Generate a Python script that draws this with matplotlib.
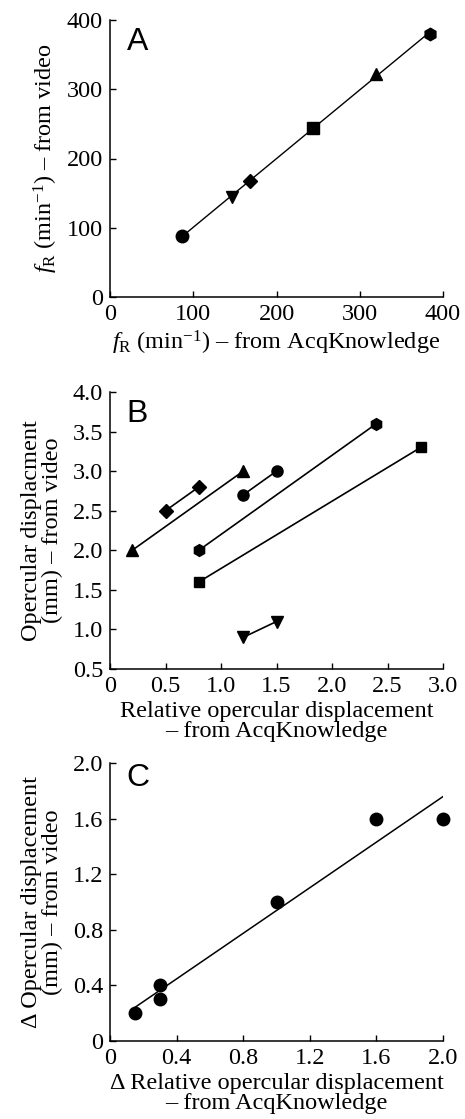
import numpy as np
import matplotlib
matplotlib.use("Agg")
import matplotlib.pyplot as plt

plt.rcParams['font.family'] = ['Liberation Serif', 'DejaVu Serif']
plt.rcParams['mathtext.fontset'] = 'custom'
plt.rcParams['mathtext.rm'] = 'Liberation Serif'
plt.rcParams['mathtext.it'] = 'Liberation Serif:italic'

# Panel A data: (AcqKnowledge, video) respiration frequency
a_markers = ['o', 'v', 'D', 's', '^', 'h']
a_x = [87, 146, 168, 244, 320, 384]
a_y = [88, 145, 168, 244, 322, 380]

# Panel B data: pairs of points for each fish
b_markers = ['^', 'D', 'o', 'h', 's', 'v']
b_x = [[0.2, 1.2], [0.5, 0.8], [1.2, 1.5], [0.8, 2.4], [0.8, 2.8], [1.2, 1.5]]
b_y = [[2.0, 3.0], [2.5, 2.8], [2.7, 3.0], [2.0, 3.6], [1.6, 3.3], [0.9, 1.1]]

# Panel C data
c_x = [0.15, 0.3, 0.3, 1.0, 1.6, 2.0]
c_y = [0.2, 0.4, 0.3, 1.0, 1.6, 1.6]

FS = 17.5
fig = plt.figure(figsize=(4.65, 11.19), dpi=100)
L, W = 110/465, 333/465
axA = fig.add_axes([L, 1-297/1119, W, 277/1119])
axB = fig.add_axes([L, 1-669/1119, W, 277/1119])
axC = fig.add_axes([L, 1-1041/1119, W, 278/1119])

def style(ax):
    for s in ['top', 'right']:
        ax.spines[s].set_visible(False)
    for s in ['left', 'bottom']:
        ax.spines[s].set_linewidth(1.1)
    ax.tick_params(direction='in', length=4, width=1.0, labelsize=FS)
    ax.tick_params(axis='x', pad=5)
    ax.tick_params(axis='y', pad=5)

msA = {'o': 9, 'v': 9, 'D': 7.5, 's': 8, '^': 9, 'h': 9}
msB = {'o': 8, 'v': 8.5, 'D': 7, 's': 7.5, '^': 8.5, 'h': 8.5}
LETTER = dict(fontsize=23, family=['Liberation Sans', 'DejaVu Sans'], va='top', ha='left')

# A
coef = np.polyfit(a_x, a_y, 1)
xx = np.array([min(a_x), max(a_x)])
axA.plot(xx, np.polyval(coef, xx), color='black', lw=1.0, zorder=1)
for m, x, y in zip(a_markers, a_x, a_y):
    axA.plot(x, y, marker=m, color='black', ms=msA[m], ls='none', zorder=2)
axA.set_xlim(0, 400)
axA.set_ylim(0, 400)
axA.set_xticks([0, 100, 200, 300, 400])
axA.set_yticks([0, 100, 200, 300, 400])
style(axA)
axA.set_xlabel(r'$\mathit{f}_{\rm R}$ (min$^{-1}$) – from AcqKnowledge', fontsize=FS, labelpad=3)
axA.set_ylabel(r'$\mathit{f}_{\rm R}$ (min$^{-1}$) – from video', fontsize=FS, labelpad=5)
axA.text(0.05, 0.975, 'A', transform=axA.transAxes, **LETTER)

# B
for m, xs, ys in zip(b_markers, b_x, b_y):
    axB.plot(xs, ys, color='black', lw=1.2, marker=m, ms=msB[m], zorder=2)
axB.set_xlim(0, 3.0)
axB.set_ylim(0.5, 4.0)
axB.set_xticks([0, 0.5, 1.0, 1.5, 2.0, 2.5, 3.0])
axB.set_xticklabels(['0', '0.5', '1.0', '1.5', '2.0', '2.5', '3.0'])
axB.set_yticks([0.5, 1.0, 1.5, 2.0, 2.5, 3.0, 3.5, 4.0])
axB.set_yticklabels(['0.5', '1.0', '1.5', '2.0', '2.5', '3.0', '3.5', '4.0'])
style(axB)
axB.set_xlabel('Relative opercular displacement\n– from AcqKnowledge', fontsize=FS, labelpad=3, linespacing=0.95)
axB.set_ylabel('Opercular displacment\n(mm) – from video', fontsize=FS, labelpad=7, linespacing=0.95)
axB.text(0.05, 0.975, 'B', transform=axB.transAxes, **LETTER)

# C
coefc = np.polyfit(c_x, c_y, 1)
xc = np.array([min(c_x), max(c_x)])
axC.plot(xc, np.polyval(coefc, xc), color='black', lw=1.1, zorder=1)
axC.plot(c_x, c_y, 'o', color='black', ms=9, zorder=2, clip_on=False)
axC.set_xlim(0, 2.0)
axC.set_ylim(0, 2.0)
axC.set_xticks([0, 0.4, 0.8, 1.2, 1.6, 2.0])
axC.set_xticklabels(['0', '0.4', '0.8', '1.2', '1.6', '2.0'])
axC.set_yticks([0, 0.4, 0.8, 1.2, 1.6, 2.0])
axC.set_yticklabels(['0', '0.4', '0.8', '1.2', '1.6', '2.0'])
style(axC)
axC.set_xlabel('Δ Relative opercular displacement\n– from AcqKnowledge', fontsize=FS, labelpad=3, linespacing=0.95)
axC.set_ylabel('Δ Opercular displacement\n(mm) – from video', fontsize=FS, labelpad=7, linespacing=0.95)
axC.text(0.05, 1.0, 'C', transform=axC.transAxes, **LETTER)

fig.savefig('out.png', dpi=100)
